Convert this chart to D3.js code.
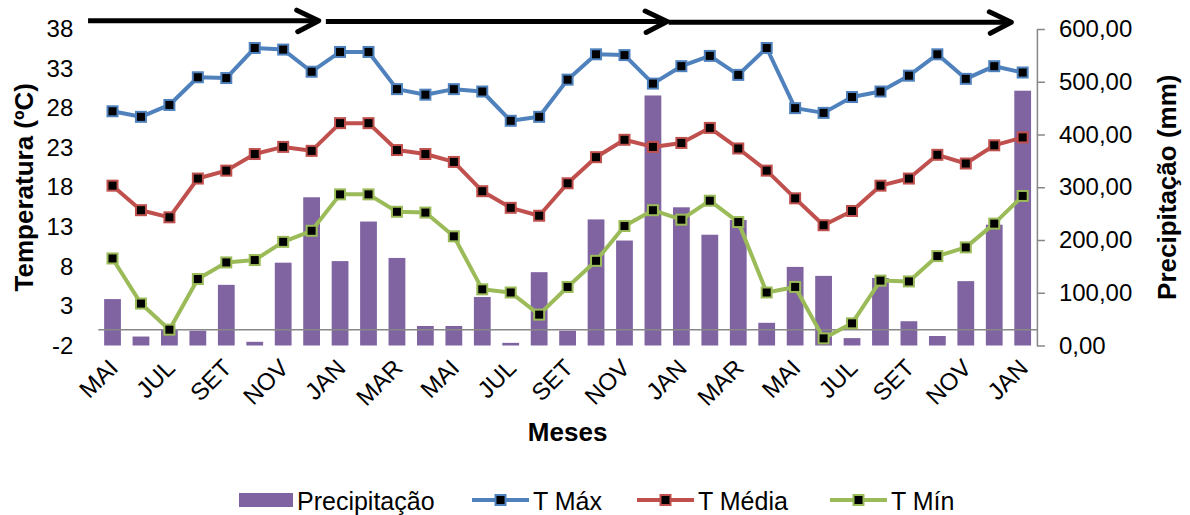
<!DOCTYPE html>
<html lang="pt">
<head>
<meta charset="utf-8">
<script src="https://cdn.jsdelivr.net/npm/d3@7"></script>
<style>
  html, body { margin: 0; padding: 0; background: #fff; }
  svg { display: block; font-family: "Liberation Sans", Arial, sans-serif; }
</style>
</head>
<body>
<svg id="chart" width="1190" height="515"></svg>
<script>
// Monthly climate series (May to January of the third year)
const months = ["MAI","JUN","JUL","AGO","SET","OUT","NOV","DEZ",
                "JAN","FEV","MAR","ABR","MAI","JUN","JUL","AGO","SET","OUT","NOV","DEZ",
                "JAN","FEV","MAR","ABR","MAI","JUN","JUL","AGO","SET","OUT","NOV","DEZ",
                "JAN"];

const precipitacao = [88, 17, 30, 28, 115, 7, 157, 281, 160, 235, 166, 37, 37, 92, 5, 139,
                      28, 239, 199, 474, 262, 210, 238, 43, 149, 132, 14, 128, 46, 18, 122, 229, 483];

const tMax = [27.6, 26.9, 28.4, 31.9, 31.8, 35.6, 35.4, 32.6, 35.1, 35.1, 30.4, 29.7, 30.4, 30.1, 26.4, 26.9,
              31.6, 34.8, 34.7, 31.1, 33.3, 34.6, 32.2, 35.6, 28.0, 27.4, 29.4, 30.1, 32.1, 34.8, 31.7, 33.3, 32.5];

const tMedia = [18.2, 15.1, 14.2, 19.1, 20.1, 22.2, 23.1, 22.6, 26.1, 26.1, 22.7, 22.2, 21.2, 17.5, 15.4, 14.4,
                18.5, 21.8, 24.0, 23.1, 23.6, 25.5, 22.9, 20.1, 16.6, 13.2, 15.0, 18.2, 19.1, 22.1, 21.0, 23.3, 24.3];

const tMin = [9.0, 3.3, 0.0, 6.4, 8.5, 8.8, 11.1, 12.5, 17.1, 17.1, 14.9, 14.8, 11.8, 5.1, 4.7, 1.9,
              5.4, 8.7, 13.1, 15.1, 13.9, 16.3, 13.6, 4.7, 5.4, -1.1, 0.8, 6.2, 6.1, 9.3, 10.4, 13.4, 16.9];

const tempTicks = [-2, 3, 8, 13, 18, 23, 28, 33, 38];
const precTicks = [0, 100, 200, 300, 400, 500, 600];

// Crop periods shown as arrows above the plot (in month-index units)
const periods = [[-0.86, 7.25], [7.5, 19.5], [19.55, 31.6]];

const series = [
  { name: "T Máx",   values: tMax,   color: "#4F81BD" },
  { name: "T Média", values: tMedia, color: "#C0504D" },
  { name: "T Mín",   values: tMin,   color: "#9BBB59" }
];
const barColor = "#8064A2";

const plot = { left: 98.3, right: 1036.9, top: 29, bottom: 345.5 };

const svg = d3.select("#chart");

const x = d3.scaleBand()
  .domain(d3.range(months.length))
  .range([plot.left, plot.right])
  .paddingInner(0.41)
  .paddingOuter(0.205);
const xc = i => x(i) + x.bandwidth() / 2;
const step = x.step();
const xIdx = v => xc(0) + v * step;

const yT = d3.scaleLinear().domain([-2, 38]).range([plot.bottom, plot.top]);
const yP = d3.scaleLinear().domain([0, 600]).range([plot.bottom, plot.top]);

const ptBR = d3.formatLocale({ decimal: ",", thousands: ".", grouping: [3], currency: ["R$", ""], minus: "-" });
const fmtP = ptBR.format(".2f");
const fmtT = ptBR.format("d");

// Precipitation bars (secondary axis)
svg.append("g")
  .selectAll("rect")
  .data(precipitacao)
  .join("rect")
  .attr("x", (d, i) => x(i))
  .attr("width", x.bandwidth())
  .attr("y", d => yP(d))
  .attr("height", d => yP(0) - yP(d))
  .attr("fill", barColor);

// Horizontal category axis line crossing at 0 °C
svg.append("line")
  .attr("x1", plot.left).attr("x2", plot.right)
  .attr("y1", yT(0)).attr("y2", yT(0))
  .attr("stroke", "#878787").attr("stroke-width", 1.5);

// Left axis: temperature labels only
const leftAxis = svg.append("g")
  .attr("transform", `translate(${plot.left},0)`)
  .call(d3.axisLeft(yT).tickValues(tempTicks).tickSize(0).tickPadding(25).tickFormat(fmtT));
leftAxis.select(".domain").remove();
leftAxis.selectAll("text").attr("font-size", 24).attr("fill", "#000")
  .attr("font-family", "Liberation Sans, Arial, sans-serif");

// Right axis: precipitation
const rightAxis = svg.append("g")
  .attr("transform", `translate(${plot.right},0)`)
  .call(d3.axisRight(yP).tickValues(precTicks).tickSizeInner(8).tickSizeOuter(0).tickPadding(14).tickFormat(fmtP));
rightAxis.select(".domain").attr("stroke", "#878787").attr("stroke-width", 1.5);
rightAxis.selectAll(".tick line").attr("stroke", "#878787").attr("stroke-width", 1.5);
rightAxis.selectAll("text").attr("font-size", 24).attr("fill", "#000")
  .attr("font-family", "Liberation Sans, Arial, sans-serif");

// Bottom axis: every second month, rotated labels
const bottomAxis = svg.append("g")
  .attr("transform", `translate(0,${plot.bottom})`)
  .call(d3.axisBottom(x).tickValues(d3.range(0, months.length, 2)).tickSize(0).tickFormat(i => months[i]));
bottomAxis.select(".domain").remove();
bottomAxis.selectAll("text")
  .attr("font-size", 24).attr("fill", "#000")
  .attr("font-family", "Liberation Sans, Arial, sans-serif")
  .attr("text-anchor", "end")
  .attr("x", 0).attr("y", 0)
  .attr("dy", "0.35em")
  .attr("transform", "translate(1,18) rotate(-45)");

// Temperature lines with square markers
const line = d3.line().x((d, i) => xc(i)).y(d => yT(d));
const mk = 10;
series.forEach(s => {
  svg.append("path")
    .datum(s.values)
    .attr("d", line)
    .attr("fill", "none")
    .attr("stroke", s.color)
    .attr("stroke-width", 4)
    .attr("stroke-linejoin", "round");
  svg.append("g")
    .selectAll("rect")
    .data(s.values)
    .join("rect")
    .attr("x", (d, i) => xc(i) - mk / 2)
    .attr("y", d => yT(d) - mk / 2)
    .attr("width", mk).attr("height", mk)
    .attr("fill", "#000")
    .attr("stroke", s.color)
    .attr("stroke-width", 2);
});

// Period arrows
const arrows = svg.append("g").attr("stroke", "#000").attr("fill", "none")
  .attr("stroke-width", 5).attr("stroke-linecap", "round").attr("stroke-linejoin", "round");
periods.forEach(([a, b], k) => {
  const x1 = xIdx(a), x2 = xIdx(b), y = 20.7 + k * 0.8;
  arrows.append("line").attr("x1", x1).attr("x2", x2 - 2).attr("y1", y).attr("y2", y)
    .attr("stroke-linecap", "butt");
  arrows.append("path").attr("d", `M${x2 - 22},${y - 10.5} L${x2},${y} L${x2 - 21},${y + 11}`);
});

// Axis titles
svg.append("text")
  .attr("transform", `translate(24,${(plot.top + plot.bottom) / 2}) rotate(-90)`)
  .attr("text-anchor", "middle").attr("dy", "0.35em")
  .attr("font-size", 26).attr("font-weight", "bold")
  .text("Temperatura (ºC)");

svg.append("text")
  .attr("transform", `translate(1167,${(plot.top + plot.bottom) / 2}) rotate(-90)`)
  .attr("text-anchor", "middle").attr("dy", "0.35em")
  .attr("font-size", 26).attr("font-weight", "bold")
  .text("Precipitação (mm)");

svg.append("text")
  .attr("x", (plot.left + plot.right) / 2).attr("y", 441)
  .attr("text-anchor", "middle")
  .attr("font-size", 26).attr("font-weight", "bold")
  .text("Meses");

// Legend
const legY = 500;
const legend = svg.append("g");
legend.append("rect").attr("x", 239).attr("y", legY - 7).attr("width", 54).attr("height", 14).attr("fill", barColor);
legend.append("text").attr("x", 297).attr("y", legY + 9.5).attr("font-size", 25).text("Precipitação");

const legItems = [
  { s: series[0], x: 472 },
  { s: series[1], x: 637 },
  { s: series[2], x: 830 }
];
legItems.forEach(({ s, x: lx }) => {
  legend.append("line").attr("x1", lx).attr("x2", lx + 57).attr("y1", legY).attr("y2", legY)
    .attr("stroke", s.color).attr("stroke-width", 4);
  legend.append("rect").attr("x", lx + 28.5 - mk / 2).attr("y", legY - mk / 2)
    .attr("width", mk).attr("height", mk).attr("fill", "#000")
    .attr("stroke", s.color).attr("stroke-width", 2);
  legend.append("text").attr("x", lx + 61).attr("y", legY + 9.5).attr("font-size", 25).text(s.name);
});
</script>
</body>
</html>
